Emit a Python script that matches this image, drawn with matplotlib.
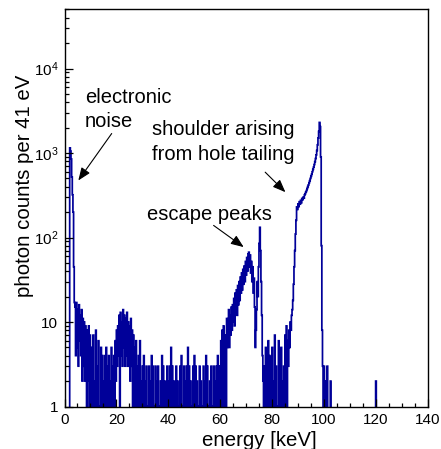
import numpy as np
import matplotlib
matplotlib.use('Agg')
import matplotlib.pyplot as plt
from matplotlib.ticker import MultipleLocator, LogLocator, NullFormatter

plt.rcParams['font.family'] = ['Liberation Sans', 'DejaVu Sans']
plt.rcParams['mathtext.fontset'] = 'custom'
plt.rcParams['mathtext.rm'] = 'Liberation Sans'
plt.rcParams['mathtext.it'] = 'Liberation Sans:italic'

# histogram, 0.25 keV bins (counts per 41 eV)
bin_width = 0.25
e_max = 140.0

# electronic noise peak, starting at 2.0 keV
noise_peak = [1150, 1050, 850, 520, 320, 200, 45, 17]
# 4.0 - 10.0 keV
low_noise = [15, 4, 17, 5, 14, 3, 16, 6, 12, 4, 14, 2, 11, 3, 10, 2,
             9, 3, 0, 8, 2, 9, 0, 7]
# 10.0 - 19.5 keV
noise_10_19 = "3050 7020 8030 6010 5040 2040 5030 4020 5030 40"
# 19.5 - 27.0 keV, small bump
bump_20 = [6, 2, 8, 3, 9, 4, 12, 0, 13, 4, 10, 3, 14, 5, 12, 3,
           11, 4, 13, 3, 10, 3, 9, 2, 11, 3, 8, 1, 7, 0]
# 27.0 - 60.0 keV, flat background
noise_27_60 = ("5060 3040 6020 3040 2030 1030 2040 3010 3020 3010 2040 "
               "3020 1030 2030 5030 2010 3020 1030 4010 3020 3050 3020 "
               "1030 4030 2010 3020 1030 2040 3010 2030 1030 2030 4030")
# 60.0 - 77.0 keV, escape peaks
escape = [3, 6, 0, 8, 4, 9, 0, 6, 7, 0, 11, 5, 9, 14, 5, 12,
          7, 15, 8, 16, 10, 19, 9, 22, 14, 24, 12, 27, 16, 30, 18, 34,
          22, 38, 24, 42, 28, 46, 30, 52, 36, 58, 40, 64, 67, 45, 62, 38,
          52, 30, 45, 22, 33, 15, 5, 8, 14, 30, 20, 45, 85, 132, 70, 30,
          12, 4, 2, 0]
# 77.0 - 86.0 keV
noise_77_86 = "3050 2060 4030 5020 7030 1060 4050 2030 7090"
# 86.0 - 100.0 keV, main line with hole tailing shoulder
main_peak = [6, 3, 8, 5, 10, 8, 12, 14, 18, 28, 45, 70, 110, 160, 230, 215,
             250, 232, 265, 248, 275, 258, 290, 280, 300, 292, 320, 330,
             345, 360, 380, 400, 420, 445, 470, 500, 530, 560, 600, 640,
             680, 730, 790, 860, 950, 1070, 1250, 1500, 1800, 2300, 2050, 900,
             80, 8, 3, 0]
# 100.0 - 103.0 keV
tail_100 = [3, 0, 2, 0, 0, 3, 0, 0, 0, 0, 2, 0]
# lone count near 120 keV
spike_120 = [2]


def digits(s):
    return [int(c) for c in s.replace(' ', '')]


edges = np.arange(0, e_max + bin_width / 2, bin_width)
counts = np.zeros(len(edges) - 1)


def place(start, vals):
    i = int(round(start / bin_width))
    counts[i:i + len(vals)] = vals


place(2.0, noise_peak)
place(4.0, low_noise)
place(10.0, digits(noise_10_19))
place(19.5, bump_20)
place(27.0, digits(noise_27_60))
place(60.0, escape)
place(77.0, digits(noise_77_86))
place(86.0, main_peak)
place(100.0, tail_100)
place(120.0, spike_120)

# empty bins are drawn below the axis so the line drops to the bottom
plot_counts = np.where(counts > 0, counts, 0.5)

W, H = 441, 449
fig = plt.figure(figsize=(W / 100, H / 100), dpi=100)
ax = fig.add_axes([64.5 / W, 1 - 406.5 / H, (427.5 - 64.5) / W, (406.5 - 9) / H])

ax.stairs(plot_counts, edges, color='#000099', lw=1.25)

ax.set_yscale('log')
ax.set_xlim(0, 140)
ax.set_ylim(1, 5.06e4)

ax.xaxis.set_major_locator(MultipleLocator(20))
ax.xaxis.set_minor_locator(MultipleLocator(5))
ax.set_yticks([1, 10, 100, 1000, 10000],
              ['1', '10', '$10^{2}$', '$10^{3}$', '$10^{4}$'])
ax.yaxis.set_minor_locator(LogLocator(base=10, subs=np.arange(2, 10)))
ax.yaxis.set_minor_formatter(NullFormatter())
ax.tick_params(which='both', direction='in', labelsize=11, width=0.9)
ax.tick_params(which='major', length=5.5, pad=4.5)
ax.tick_params(which='minor', length=3)
for s in ax.spines.values():
    s.set_linewidth(1.0)

# axis titles, right-aligned as in ROOT
fig.text(317 / W, 1 - 445.5 / H, 'energy [keV]', ha='right', va='baseline', fontsize=14.7)
fig.text(25 / W, 1 - 75 / H, 'photon counts per 41 eV', rotation=90,
         ha='center', va='top', fontsize=14.7)

# annotations
labels = [('electronic', 85, 103.3), ('noise', 85, 126.7),
          ('shoulder arising', 151.7, 135), ('from hole tailing', 151.7, 160),
          ('escape peaks', 146.7, 219.5)]
for txt, px, py in labels:
    fig.text(px / W, 1 - py / H, txt, ha='left', va='baseline', fontsize=14.5)

arrows = [((5.33, 473), (18.2, 1700)),
          ((85.2, 344), (77.4, 593)),
          ((69.1, 77), (57.5, 139))]
for tip, tail in arrows:
    ax.annotate('', xy=tip, xytext=tail,
                arrowprops=dict(arrowstyle='-|>,head_length=0.55,head_width=0.22',
                                color='black', lw=0.8, mutation_scale=14,
                                shrinkA=0, shrinkB=0))

fig.savefig('out.png', dpi=100)
